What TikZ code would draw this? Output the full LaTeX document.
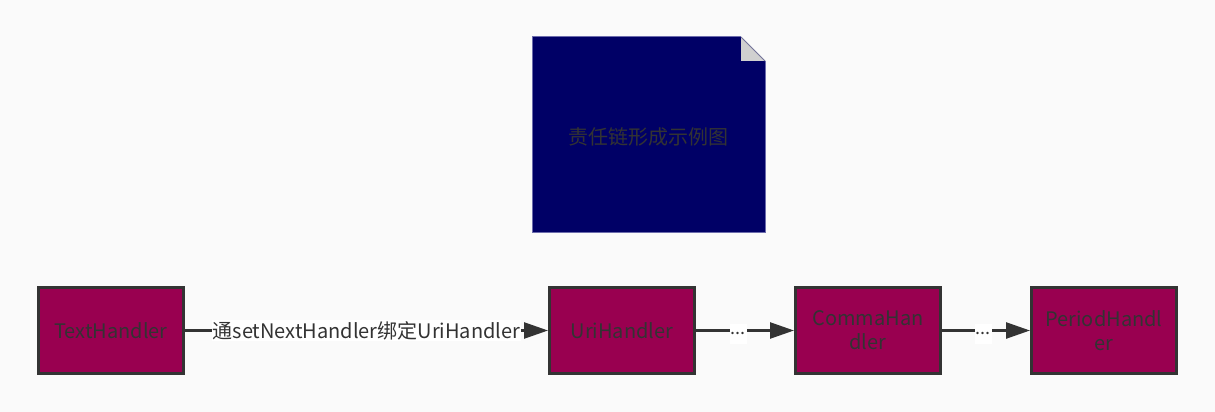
\documentclass[tikz,border=0pt]{standalone}
\usepackage{fontspec}
\setmainfont{Noto Sans CJK SC}
\usetikzlibrary{arrows.meta}
\definecolor{bgc}{HTML}{FAFAFA}
\definecolor{boxc}{HTML}{990050}
\definecolor{notec}{HTML}{000066}
\definecolor{notebd}{HTML}{6C6CAC}
\definecolor{foldc}{HTML}{D0D0D0}
\definecolor{linec}{HTML}{333333}
\tikzset{
  handler/.style={draw=linec, line width=3pt, fill=boxc, minimum width=145pt, minimum height=86pt, inner sep=0pt, text=linec, font=\fontsize{20}{24}\selectfont, align=center},
  conn/.style={draw=linec, line width=2.5pt, -{Triangle[length=24pt,width=16pt]}},
  elabel/.style={fill=white, inner sep=1pt, text=linec, font=\fontsize{20}{22}\selectfont},
  dots/.style={fill=white, inner xsep=1pt, inner ysep=0pt, minimum height=20pt, yshift=-3pt, text=linec, font=\fontsize{18}{18}\selectfont}
}
\begin{document}
\begin{tikzpicture}[x=1pt,y=-1pt]
\fill[bgc] (0,0) rectangle (1215,412);
\useasboundingbox (0,0) rectangle (1215,412);
% note
\fill[notec] (532,37) -- (741,37) -- (765,61) -- (765,232) -- (532,232) -- cycle;
\draw[notebd, line width=1pt] (765,61) -- (765,232) -- (532,232) -- (532,37) -- (741,37);
\fill[foldc] (741,37) -- (765,61) -- (741,61) -- cycle;
\draw[notebd!60!gray, line width=0.8pt] (741,37) -- (765,61);
\node[text=linec, font=\fontsize{20}{22}\selectfont] (title) at (648,137) {责任链形成示例图};
% handlers
\node[handler] (text) at (111,330.5) {TextHandler};
\node[handler] (uri) at (622,330.5) {UriHandler};
\node[handler] (comma) at (868,330.5) {CommaHan\\dler};
\node[handler] (period) at (1104,330.5) {PeriodHandl\\er};
% connectors
\draw[conn] (text) -- node[elabel] (l1) {通setNextHandler绑定UriHandler} (uri);
\draw[conn] (uri) -- node[dots, pos=0.43] (l2) {...} (comma);
\draw[conn] (comma) -- node[dots, pos=0.47] (l3) {...} (period);
\end{tikzpicture}
\end{document}
